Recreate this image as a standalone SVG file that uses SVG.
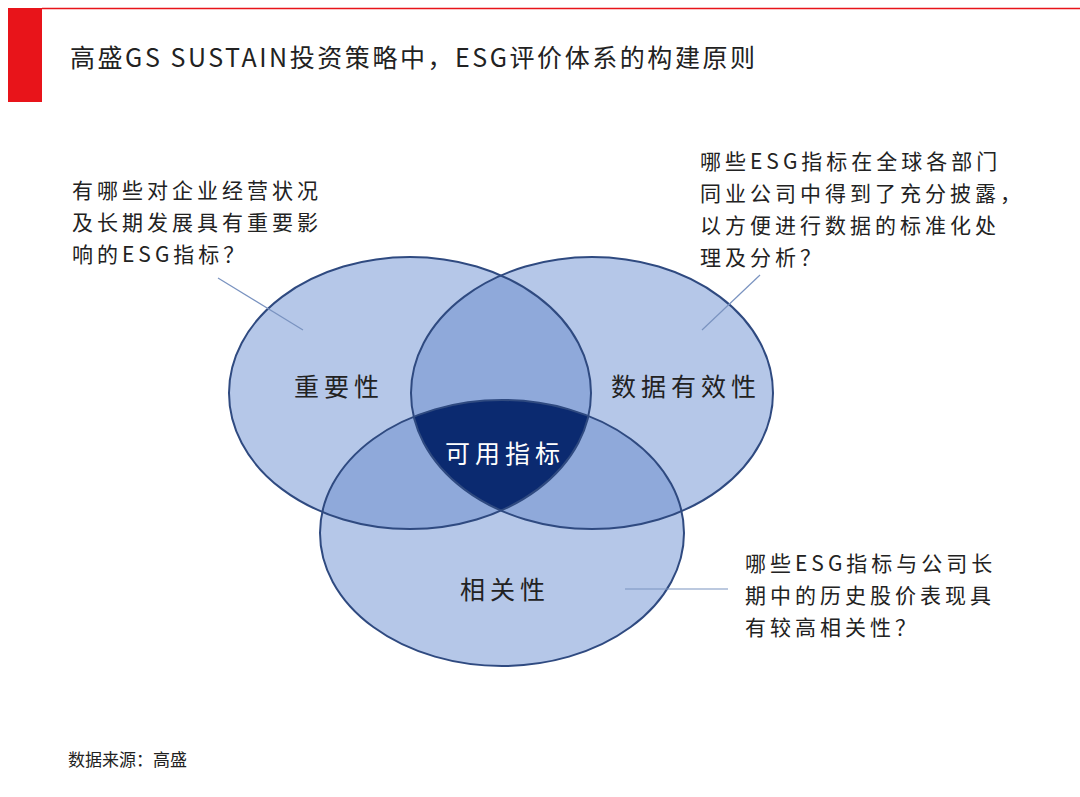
<svg xmlns="http://www.w3.org/2000/svg" width="1080" height="797" viewBox="0 0 1080 797">
<style>
.t{font-family:"Noto Sans CJK SC","Liberation Sans",sans-serif;fill:#222}
.a{font-size:21px;letter-spacing:4px}
.l{font-size:25px;letter-spacing:5px;text-anchor:middle}
.ld{stroke:#7a93c0;stroke-width:1.2;fill:none}
.e{fill:none;stroke:#2f4a80;stroke-width:2}
</style>
<defs>
<ellipse id="L" cx="410" cy="393" rx="181" ry="136"/>
<ellipse id="R" cx="592" cy="393" rx="181" ry="136"/>
<ellipse id="B" cx="502" cy="533" rx="182" ry="133"/>
<clipPath id="cL"><use href="#L"/></clipPath>
<clipPath id="cR"><use href="#R"/></clipPath>
<clipPath id="cB"><use href="#B"/></clipPath>
</defs>
<rect width="1080" height="797" fill="#fff"/>
<g id="header">
<rect x="8" y="8" width="34" height="94" fill="#e8141a"/>
<line x1="42" y1="8.5" x2="1080" y2="8.5" stroke="#e8141a" stroke-width="1.5"/>
<text class="t" x="70" y="67" font-size="25" textLength="685" lengthAdjust="spacing">高盛GS SUSTAIN投资策略中，ESG评价体系的构建原则</text>
</g>
<g id="venn">
<use href="#L" fill="#b5c7e8"/>
<use href="#R" fill="#b5c7e8"/>
<use href="#B" fill="#b5c7e8"/>
<use href="#R" fill="#8fa9da" clip-path="url(#cL)"/>
<use href="#B" fill="#8fa9da" clip-path="url(#cL)"/>
<use href="#B" fill="#8fa9da" clip-path="url(#cR)"/>
<g clip-path="url(#cL)"><use href="#B" fill="#0b2a70" clip-path="url(#cR)"/></g>
<use href="#L" class="e"/><use href="#R" class="e"/><use href="#B" class="e"/>
</g>
<g id="labels">
<text class="t l" x="339" y="396">重要性</text>
<text class="t l" x="686" y="396">数据有效性</text>
<text class="t l" x="505" y="463" style="fill:#fff">可用指标</text>
<text class="t l" x="505" y="599">相关性</text>
</g>
<g id="connectors">
<line class="ld" x1="218" y1="278" x2="303" y2="330"/>
<line class="ld" x1="760" y1="275" x2="702" y2="330"/>
<line class="ld" x1="625" y1="589" x2="728" y2="589"/>
</g>
<g id="notes" class="t a">
<text x="72" y="198">有哪些对企业经营状况</text>
<text x="72" y="230">及长期发展具有重要影</text>
<text x="72" y="262">响的ESG指标？</text>
<text x="700" y="169">哪些ESG指标在全球各部门</text>
<text x="700" y="201">同业公司中得到了充分披露，</text>
<text x="700" y="233">以方便进行数据的标准化处</text>
<text x="700" y="265">理及分析？</text>
<text x="745" y="571">哪些ESG指标与公司长</text>
<text x="745" y="603">期中的历史股价表现具</text>
<text x="745" y="635">有较高相关性？</text>
</g>
<text class="t" x="68" y="766" font-size="17">数据来源：高盛</text>
</svg>
